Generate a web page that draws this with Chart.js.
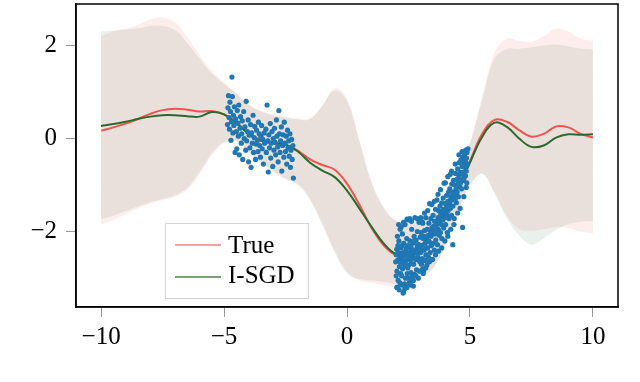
<!DOCTYPE html>
<html>
<head>
<meta charset="utf-8">
<script src="https://cdn.jsdelivr.net/npm/chart.js@4/dist/chart.umd.min.js"></script>
<style>
  html, body { margin: 0; padding: 0; background: #fff; }
  #wrap { width: 640px; height: 382px; }
</style>
</head>
<body>
<div id="wrap"><canvas id="chart"></canvas></div>
<script>
const xs = [-10, -9.5, -9, -8.5, -8, -7.5, -7, -6.5, -6, -5.5, -5, -4.5, -4, -3.5, -3, -2.5, -2, -1.5, -1, -0.5,
  0, 0.5, 1, 1.5, 2, 2.5, 3, 3.5, 4, 4.5, 5, 5.5, 6, 6.5, 7, 7.5, 8, 8.5, 9, 9.5, 10];

const trueMean = [0.17, 0.24, 0.32, 0.42, 0.53, 0.61, 0.64, 0.62, 0.58, 0.59, 0.52, 0.35, 0.12, -0.03, -0.1, -0.14, -0.26, -0.45, -0.57, -0.67,
  -0.97, -1.42, -1.92, -2.3, -2.5, -2.44, -2.3, -2.0, -1.58, -1.05, -0.48, 0.1, 0.4, 0.36, 0.18, 0.04, 0.1, 0.26, 0.24, 0.1, 0.02];
const trueUpper = [2.2, 2.3, 2.36, 2.44, 2.56, 2.6, 2.5, 2.18, 1.8, 1.45, 1.2, 0.98, 0.74, 0.6, 0.52, 0.47, 0.43, 0.44, 0.72, 1.08,
  0.85, -0.02, -0.92, -1.48, -1.76, -1.8, -1.72, -1.56, -1.3, -0.86, -0.08, 0.9, 1.85, 2.14, 2.1, 2.08, 2.2, 2.36, 2.3, 2.15, 2.1];
const trueLower = [-1.85, -1.75, -1.62, -1.5, -1.4, -1.32, -1.25, -1.1, -0.78, -0.36, -0.1, -0.06, -0.3, -0.52, -0.7, -0.86, -0.98, -1.3, -1.82, -2.4,
  -2.85, -3.05, -3.1, -3.15, -3.2, -3.15, -3.0, -2.8, -2.3, -1.6, -1.0, -0.75, -1.15, -1.65, -1.95, -1.98, -1.95, -1.9, -1.92, -2.0, -2.04];

const sgdMean = [0.27, 0.31, 0.36, 0.42, 0.47, 0.5, 0.5, 0.48, 0.47, 0.57, 0.52, 0.33, 0.1, -0.05, -0.1, -0.13, -0.28, -0.52, -0.69, -0.83,
  -1.12, -1.5, -1.9, -2.26, -2.48, -2.44, -2.3, -2.0, -1.6, -1.08, -0.52, 0.04, 0.34, 0.25, 0.0, -0.18, -0.15, 0.02, 0.09, 0.08, 0.09];
const sgdUpper = [2.3, 2.32, 2.34, 2.37, 2.42, 2.42, 2.33, 2.06, 1.72, 1.4, 1.17, 0.96, 0.72, 0.58, 0.5, 0.45, 0.41, 0.42, 0.7, 1.03,
  0.8, -0.06, -0.95, -1.5, -1.78, -1.82, -1.74, -1.58, -1.32, -0.88, -0.12, 0.84, 1.72, 1.92, 1.93, 1.96, 2.0, 2.02, 1.98, 1.93, 1.92];
const sgdLower = [-1.73, -1.66, -1.56, -1.46, -1.37, -1.3, -1.22, -1.06, -0.72, -0.32, -0.08, -0.05, -0.29, -0.52, -0.71, -0.88, -1.0, -1.33, -1.86, -2.45,
  -2.9, -3.02, -3.05, -3.08, -3.12, -3.08, -2.95, -2.78, -2.3, -1.62, -1.02, -0.76, -1.18, -1.72, -2.08, -2.28, -2.15, -1.96, -1.84, -1.79, -1.77];

// observed points, left group
const obsLeft = [
  [-4.86, 0.3], [-4.84, 0.66], [-4.82, 0.92], [-4.8, 0.45], [-4.78, 0.2], [-4.76, 0.78], [-4.74, 0.58], [-4.72, -0.04],
  [-4.7, 0.36], [-4.68, 1.32], [-4.66, 0.9], [-4.64, 0.12], [-4.62, 0.5], [-4.6, 0.28], [-4.58, 0.68], [-4.55, -0.3],
  [-4.53, 0.42], [-4.5, 0.15], [-4.48, -0.22], [-4.46, 0.6], [-4.44, 0.33], [-4.42, 0.05], [-4.4, 0.72], [-4.38, -0.35],
  [-4.35, 0.22], [-4.33, 0.47], [-4.3, -0.1], [-4.28, 0.1], [-4.26, 0.38], [-4.24, -0.45], [-4.2, 0.58], [-4.18, 0.0],
  [-4.15, 0.25], [-4.12, -0.25], [-4.1, 0.8], [-4.08, -0.05], [-4.05, 0.15], [-4.02, 0.4], [-4.0, -0.5], [-3.98, 0.07],
  [-3.95, -0.2], [-3.92, 0.3], [-3.9, -0.62], [-3.88, 0.12], [-3.85, -0.1], [-3.82, 0.5], [-3.8, -0.3], [-3.78, 0.02],
  [-3.75, 0.26], [-3.72, -0.45], [-3.7, -0.12], [-3.68, 0.18], [-3.65, -0.05], [-3.62, -0.28], [-3.6, 0.35], [-3.57, 0.1],
  [-3.55, -0.15], [-3.52, -0.4], [-3.5, 0.05], [-3.47, 0.28], [-3.45, -0.22], [-3.42, -0.02], [-3.4, -0.55], [-3.37, 0.12],
  [-3.35, -0.1], [-3.3, 0.2], [-3.28, -0.3], [-3.25, 0.72], [-3.22, -0.05], [-3.2, -0.72], [-3.18, 0.08], [-3.15, -0.2],
  [-3.12, 0.32], [-3.1, -0.42], [-3.08, -0.1], [-3.05, 0.15], [-3.02, -0.6], [-3.0, 0.0], [-2.97, -0.25], [-2.95, 0.22],
  [-2.92, -0.08], [-2.9, -0.35], [-2.87, 0.4], [-2.85, 0.05], [-2.82, -0.18], [-2.8, -0.5], [-2.77, 0.6], [-2.75, 0.1],
  [-2.72, -0.3], [-2.7, -0.05], [-2.67, 0.25], [-2.65, -0.7], [-2.62, -0.15], [-2.6, 0.08], [-2.57, -0.4], [-2.55, 0.35],
  [-2.52, -0.1], [-2.5, -0.28], [-2.47, 0.05], [-2.45, -0.55], [-2.42, 0.18], [-2.4, -0.2], [-2.37, -0.05], [-2.35, -0.38],
  [-2.32, 0.1], [-2.3, -0.62], [-2.28, -0.25], [-2.25, -0.02], [-2.23, -0.45], [-2.2, -0.15], [-2.18, -0.85]
];

// observed points, right group
const obsRight = [
  [2.0, -2.5], [2.02, -2.38], [2.03, -2.85], [2.05, -2.1], [2.06, -2.62], [2.08, -3.05], [2.1, -2.45], [2.11, -2.2],
  [2.13, -2.75], [2.15, -2.55], [2.16, -1.95], [2.18, -2.9], [2.2, -2.35], [2.21, -3.15], [2.23, -2.6], [2.25, -2.05],
  [2.26, -2.8], [2.28, -2.45], [2.3, -3.3], [2.31, -2.25], [2.33, -2.7], [2.35, -2.5], [2.36, -1.85], [2.38, -3.0],
  [2.4, -2.4], [2.41, -2.62], [2.43, -2.15], [2.45, -2.9], [2.46, -2.5], [2.48, -2.3], [2.5, -1.75], [2.51, -2.72],
  [2.53, -3.1], [2.55, -2.45], [2.56, -2.2], [2.58, -2.6], [2.6, -2.88], [2.61, -2.35], [2.63, -1.95], [2.65, -2.55],
  [2.66, -3.05], [2.68, -2.25], [2.7, -2.48], [2.71, -2.7], [2.73, -2.1], [2.75, -2.92], [2.76, -1.7], [2.78, -2.4],
  [2.8, -2.6], [2.81, -2.18], [2.83, -2.82], [2.85, -2.35], [2.86, -2.0], [2.88, -2.55], [2.9, -3.0], [2.91, -2.28],
  [2.93, -1.8], [2.95, -2.45], [2.96, -2.65], [2.98, -2.12], [3.0, -2.45], [3.01, -2.02], [3.03, -2.7], [3.05, -2.3],
  [3.06, -2.58], [3.08, -1.82], [3.1, -2.15], [3.11, -2.85], [3.13, -2.4], [3.15, -1.98], [3.16, -2.62], [3.18, -2.25],
  [3.2, -1.7], [3.21, -2.5], [3.23, -2.12], [3.25, -2.72], [3.26, -1.95], [3.28, -2.35], [3.3, -2.08], [3.31, -2.55],
  [3.33, -1.82], [3.35, -2.22], [3.36, -1.4], [3.38, -2.45], [3.4, -2.0], [3.41, -1.72], [3.43, -2.3], [3.45, -1.92],
  [3.46, -2.6], [3.48, -2.05], [3.5, -1.65], [3.51, -2.25], [3.53, -1.88], [3.55, -2.4], [3.56, -1.78], [3.58, -2.05],
  [3.6, -1.52], [3.61, -2.18], [3.63, -1.85], [3.65, -2.0], [3.66, -1.32], [3.68, -2.28], [3.7, -1.7], [3.71, -1.95],
  [3.73, -1.55], [3.75, -2.08], [3.76, -1.8], [3.78, -1.45], [3.8, -2.02], [3.81, -1.65], [3.83, -1.85], [3.85, -1.38],
  [3.86, -2.15], [3.88, -1.6], [3.9, -1.75], [3.91, -1.28], [3.93, -1.92], [3.95, -0.96], [3.96, -1.55], [3.98, -1.7],
  [4.0, -1.4], [4.01, -1.85], [4.03, -1.5], [4.05, -1.22], [4.06, -1.65], [4.08, -2.02], [4.1, -1.35], [4.11, -1.55],
  [4.13, -1.15], [4.15, -1.72], [4.16, -1.4], [4.18, -1.08], [4.2, -0.77], [4.21, -1.5], [4.23, -1.25], [4.25, -1.65],
  [4.26, -0.98], [4.28, -1.32], [4.3, -2.28], [4.3, -1.15], [4.31, -1.45], [4.33, -0.9], [4.35, -1.2], [4.36, -1.72],
  [4.38, -1.0], [4.4, -1.3], [4.41, -0.75], [4.43, -1.1], [4.45, -1.38], [4.46, -0.88], [4.48, -1.15], [4.5, -0.65],
  [4.51, -0.98], [4.53, -1.25], [4.55, -0.8], [4.56, -0.52], [4.58, -1.02], [4.6, -0.72], [4.61, -0.9], [4.63, -0.46],
  [4.65, -0.76], [4.66, -1.08], [4.68, -0.6], [4.7, -1.91], [4.71, -0.4], [4.73, -0.72], [4.75, -0.55], [4.76, -0.85],
  [4.78, -0.35], [4.8, -0.62], [4.81, -0.48], [4.83, -0.25], [4.85, -0.7], [4.86, -0.42], [4.88, -0.3], [4.9, -0.55],
  [4.92, -0.22], [1.98, -2.65], [2.0, -2.95], [2.04, -3.2], [2.12, -3.25], [2.22, -2.95], [2.34, -3.12], [2.44, -3.2],
  [2.6, -3.15], [2.7, -3.05], [2.44, -1.73], [2.55, -1.72], [3.05, -1.79], [2.7, -3.17], [3.1, -2.9], [2.28, -3.32],
  [2.03, -3.2], [2.07, -2.3], [2.14, -2.65], [2.19, -2.5], [2.24, -2.3], [2.27, -2.68], [2.32, -2.52], [2.37, -2.75],
  [2.42, -2.35], [2.47, -2.78], [2.52, -2.55], [2.57, -2.32], [2.62, -2.68], [2.67, -2.42], [2.72, -2.2], [2.77, -2.58],
  [2.82, -2.45], [2.87, -2.28], [2.92, -2.6], [2.97, -2.38], [3.02, -2.3], [3.12, -2.1], [3.22, -2.35], [3.32, -2.2],
  [3.42, -2.1], [3.52, -1.98], [3.62, -1.9], [3.72, -1.75], [3.82, -1.6], [3.92, -1.52], [4.02, -1.6], [4.12, -1.42],
  [4.22, -1.3], [4.32, -1.2], [4.42, -1.2], [4.52, -1.0], [4.62, -0.95], [4.72, -0.9], [4.82, -0.8], [4.87, -0.95],
  [2.1, -1.85], [2.2, -1.9], [2.3, -1.8], [2.62, -1.78], [2.85, -1.72], [3.0, -1.7], [3.15, -1.6], [3.28, -1.55],
  [3.45, -1.42], [3.55, -1.35], [3.7, -1.2], [3.8, -1.1], [4.0, -0.95], [4.1, -0.82], [4.25, -0.7], [4.4, -0.55],
  [4.55, -0.35], [4.68, -0.28], [2.15, -3.1], [2.35, -3.22], [2.5, -3.0], [2.65, -2.95], [2.8, -2.95], [2.95, -2.85],
  [3.08, -2.8], [3.2, -2.78], [3.35, -2.65], [3.48, -2.6], [3.6, -2.5], [3.72, -2.42], [3.85, -2.35], [3.98, -2.2],
  [4.1, -2.1], [4.22, -1.95], [4.35, -1.85], [4.5, -1.6], [4.6, -1.5], [4.75, -1.25], [4.85, -1.05]
];

const xTicks = [-10, -5, 0, 5, 10];
const yTicks = [-2, 0, 2];

const RED = 'rgba(238, 70, 62, 0.9)';
const GREEN = '#2b6a2e';
const FONT = "'Liberation Serif', 'DejaVu Serif', serif";

Chart.defaults.font.family = FONT;

function pts(ys) {
  return xs.map((x, i) => ({ x, y: ys[i] }));
}

function minus(v) {
  return v < 0 ? '\u2212' + Math.abs(v) : String(v);
}

// frame round the plot + legend box
const decor = {
  id: 'decor',
  afterDatasetsDraw(chart) {
    const { ctx, chartArea: a } = chart;
    ctx.save();
    ctx.strokeStyle = '#000';
    ctx.lineWidth = 1.5;
    ctx.strokeRect(a.left, a.top, a.right - a.left, a.bottom - a.top);

    // legend
    ctx.fillStyle = 'rgba(255,255,255,0.85)';
    ctx.fillRect(165.5, 223.5, 143, 75);
    ctx.strokeStyle = '#d6d6d6';
    ctx.lineWidth = 1;
    ctx.strokeRect(165.5, 223.5, 143, 75);

    ctx.lineWidth = 1.6;
    ctx.strokeStyle = 'rgba(238, 100, 95, 0.8)';
    ctx.beginPath(); ctx.moveTo(175, 245); ctx.lineTo(221, 245); ctx.stroke();
    ctx.strokeStyle = 'rgba(43, 106, 46, 0.85)';
    ctx.beginPath(); ctx.moveTo(175, 277); ctx.lineTo(221, 277); ctx.stroke();

    ctx.fillStyle = '#000';
    ctx.font = '25px ' + FONT;
    ctx.textBaseline = 'alphabetic';
    ctx.fillText('True', 228, 253);
    ctx.fillText('I-SGD', 228, 283);
    ctx.restore();
  }
};

new Chart(document.getElementById('chart'), {
  type: 'scatter',
  data: {
    datasets: [
      {
        label: 'data',
        data: obsLeft.concat(obsRight).map(p => ({ x: p[0], y: p[1] })),
        backgroundColor: '#1f77b4',
        borderWidth: 0,
        pointRadius: 2.6,
      },
      {
        label: 'I-SGD',
        data: pts(sgdMean),
        showLine: true,
        borderColor: GREEN,
        borderWidth: 2,
        pointRadius: 0,
        tension: 0.4,
      },
      {
        label: 'True',
        data: pts(trueMean),
        showLine: true,
        borderColor: RED,
        borderWidth: 2,
        pointRadius: 0,
        tension: 0.4,
      },
      {
        label: 'true upper',
        data: pts(trueUpper),
        showLine: true,
        borderWidth: 0,
        pointRadius: 0,
        tension: 0.4,
      },
      {
        label: 'true lower',
        data: pts(trueLower),
        showLine: true,
        borderWidth: 0,
        pointRadius: 0,
        tension: 0.4,
        fill: 3,
        backgroundColor: 'rgba(240, 90, 80, 0.1)',
      },
      {
        label: 'sgd upper',
        data: pts(sgdUpper),
        showLine: true,
        borderWidth: 0,
        pointRadius: 0,
        tension: 0.4,
      },
      {
        label: 'sgd lower',
        data: pts(sgdLower),
        showLine: true,
        borderWidth: 0,
        pointRadius: 0,
        tension: 0.4,
        fill: 5,
        backgroundColor: 'rgba(45, 110, 60, 0.1)',
      },
    ]
  },
  options: {
    responsive: true,
    maintainAspectRatio: false,
    animation: false,
    devicePixelRatio: 1,
    layout: { padding: { left: 0, top: 1, right: 22, bottom: 0 } },
    plugins: {
      legend: { display: false },
      tooltip: { enabled: false },
    },
    scales: {
      x: {
        type: 'linear',
        min: -11.02,
        max: 11.02,
        afterBuildTicks: (s) => { s.ticks = xTicks.map(v => ({ value: v })); },
        afterFit: (s) => { s.height = 75; s.paddingLeft = 0; s.paddingRight = 0; },
        ticks: {
          color: '#000',
          font: { size: 25 },
          padding: 5,
          maxRotation: 0,
          callback: minus,
        },
        grid: { drawOnChartArea: false, drawTicks: true, tickLength: 10, color: '#999' },
        border: { color: '#000', width: 1.5 },
      },
      y: {
        type: 'linear',
        min: -3.62,
        max: 2.89,
        afterBuildTicks: (s) => { s.ticks = yTicks.map(v => ({ value: v })); },
        afterFit: (s) => { s.width = 76; s.paddingTop = 0; s.paddingBottom = 0; },
        ticks: {
          color: '#000',
          font: { size: 25 },
          padding: 9,
          callback: minus,
        },
        grid: { drawOnChartArea: false, drawTicks: true, tickLength: 10, color: '#999' },
        border: { color: '#000', width: 1.5 },
      }
    }
  },
  plugins: [decor]
});
</script>
</body>
</html>
